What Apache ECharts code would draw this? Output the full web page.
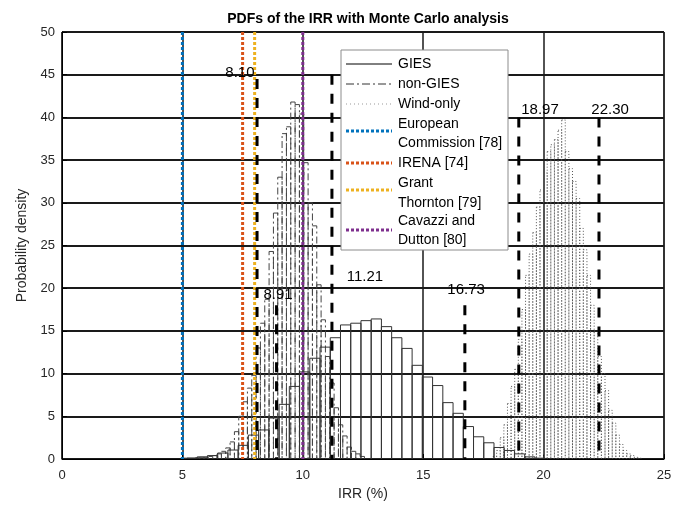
<!DOCTYPE html>
<html><head><meta charset="utf-8">
<script src="https://cdn.jsdelivr.net/npm/echarts/dist/echarts.min.js"></script>
<style>html,body{margin:0;padding:0;background:#fff}#c{width:688px;height:508px}</style>
</head><body><div id="c"></div>
<script>
const FONT = '"Liberation Sans", Arial, Helvetica, sans-serif';

// GIES histogram (bin edges: first edge + bin width), heights
const giesFirstEdge = 5.19;
const giesBinWidth = 0.425;
const giesHeights = [0.1, 0.25, 0.4, 0.7, 1.05, 1.6, 2.8, 3.4, 4.8, 6.4, 8.5, 10.2, 11.8, 13.1, 14.2,
  15.7, 15.9, 16.2, 16.4, 15.5, 14.2, 12.95, 10.97, 9.6, 8.6, 6.6, 5.35, 3.8, 2.6, 1.9, 1.35, 1.0, 0.6, 0.25, 0.1];

// non-GIES histogram
const nonGiesFirstEdge = 5.0;
const nonGiesBinWidth = 0.18;
const nonGiesHeights = [0.1, 0.1, 0.1, 0.15, 0.2, 0.2, 0.3, 0.4, 0.6, 0.9, 1.3, 2.0, 3.2, 5.0, 6.7, 8.3,
  9.8, 13, 15.9, 18.7, 24.3, 28.8, 33, 38.1, 38.9, 41.8, 41.5, 40.4, 34.7, 30, 27.3, 20.4, 16.3, 12,
  8.9, 6.0, 4.0, 2.7, 1.4, 0.9, 0.6, 0.3];

// Wind-only histogram
const windFirstEdge = 17.9;
const windBinWidth = 0.15;
const windHeights = [0.3, 1.0, 2.5, 4.0, 6.5, 8.5, 10.5, 14, 17.5, 21.5, 24, 26.5, 29.5, 31.5, 33.5, 36,
  36.8, 37.4, 38.5, 39.7, 36, 34, 32.5, 30.5, 27, 24.5, 21.5, 18, 15, 12, 10, 8, 5.7, 4.2, 2.8, 1.7,
  1.0, 0.6, 0.4, 0.2, 0.1];

// Literature reference values
const refNames = [['European', 'Commission [78]'], ['IRENA [74]'], ['Grant', 'Thornton [79]'], ['Cavazzi and', 'Dutton [80]']];
const refValues = [5, 7.5, 8, 10];
const refColors = ['#0072BD', '#D95319', '#EDB120', '#7E2F8E'];

// Percentile markers
const pctValues = [8.10, 8.91, 11.21, 16.73, 18.97, 22.30];
const pctLabels = ['8.10', '8.91', '11.21', '16.73', '18.97', '22.30'];
const pctTops = [44.5, 18, 45, 18, 40, 40];
const pctLabelX = [7.39, 8.97, 12.58, 16.78, 19.85, 22.76];
const pctLabelY = [45.2, 19.2, 21.3, 19.8, 40.9, 40.9];

function bins(first, w, heights) {
  return heights.map((h, i) => [first + i * w, first + (i + 1) * w, h]);
}
function histSeries(name, data, style, z) {
  return {
    type: 'custom', name, data, z, clip: true,
    encode: { x: [0, 1], y: 2 },
    renderItem: (params, api) => {
      const p0 = api.coord([api.value(0), api.value(2)]);
      const p1 = api.coord([api.value(1), 0]);
      return { type: 'rect', shape: { x: p0[0], y: p0[1], width: p1[0] - p0[0], height: p1[1] - p0[1] },
        style: Object.assign({ fill: 'none' }, style) };
    }
  };
}
function vlineSeries(name, data, z) {
  return {
    type: 'custom', name, data, z, clip: false,
    encode: { x: 0, y: 1 },
    renderItem: (params, api) => {
      const top = api.coord([api.value(0), api.value(1)]);
      const bot = api.coord([api.value(0), 0]);
      const d = data[params.dataIndex];
      return { type: 'line', shape: { x1: top[0], y1: top[1], x2: bot[0], y2: bot[1] },
        style: { stroke: d[2], lineWidth: 3, lineDash: d[3] } };
    }
  };
}

const refData = refValues.map((v, i) => [v, 50, refColors[i], [3, 2]]);
const pctData = pctValues.map((v, i) => [v, pctTops[i], '#000', [10, 9]]);
const pctTextData = pctLabels.map((t, i) => [pctLabelX[i], pctLabelY[i], t]);

// Legend (graphic)
const legendLeft = 341, legendTop = 50;
const legendRows = [
  { label: ['GIES'], y: 64, stroke: '#000', width: 1, dash: null },
  { label: ['non-GIES'], y: 84, stroke: '#333', width: 1, dash: [8, 3, 2, 3] },
  { label: ['Wind-only'], y: 104, stroke: '#999', width: 1, dash: [1, 3] }
];
const twoLineY = [[124, 143, 131], [163, 163, 163], [183, 203, 190], [221, 240, 230]];
refNames.forEach((n, i) => legendRows.push({ label: n, y: twoLineY[i][0], y2: twoLineY[i][1], sy: twoLineY[i][2], stroke: refColors[i], width: 3, dash: [3, 2] }));

const graphic = [{ type: 'rect', z: 100, shape: { x: legendLeft, y: legendTop, width: 167, height: 200 },
  style: { fill: '#fff', stroke: '#8c8c8c', lineWidth: 1 } }];
legendRows.forEach(r => {
  const sy = r.sy !== undefined ? r.sy : r.y;
  graphic.push({ type: 'line', z: 101, shape: { x1: 346, y1: sy, x2: 392, y2: sy },
    style: { stroke: r.stroke, lineWidth: r.width, lineDash: r.dash } });
  r.label.forEach((t, k) => {
    graphic.push({ type: 'text', z: 101, x: 398, y: k === 0 ? r.y : r.y2,
      style: { text: t, fill: '#000', font: '14px ' + FONT, verticalAlign: 'middle', align: 'left' } });
  });
});

const chart = echarts.init(document.getElementById('c'), null, { renderer: 'canvas' });
chart.setOption({
  animation: false,
  backgroundColor: '#fff',
  title: { text: 'PDFs of the IRR with Monte Carlo analysis', left: 363, top: 7, textAlign: 'center',
    textStyle: { fontFamily: FONT, fontSize: 14, fontWeight: 'bold', color: '#000' } },
  grid: { left: 62, right: 24, top: 32, bottom: 49, show: true, borderColor: '#000', borderWidth: 1 },
  xAxis: { type: 'value', min: 0, max: 25, interval: 5, name: 'IRR (%)', nameLocation: 'middle', nameGap: 27,
    nameTextStyle: { fontFamily: FONT, fontSize: 14, color: '#262626' },
    axisLine: { lineStyle: { color: '#000' } }, axisTick: { inside: true, length: 5, lineStyle: { color: '#000' } },
    axisLabel: { fontFamily: FONT, fontSize: 13, color: '#262626', margin: 10 },
    splitLine: { show: true, lineStyle: { color: '#1a1a1a', width: 1.5 } } },
  yAxis: { type: 'value', min: 0, max: 50, interval: 5, name: 'Probability density', nameLocation: 'middle', nameGap: 32,
    nameTextStyle: { fontFamily: FONT, fontSize: 14, color: '#262626' },
    axisLine: { show: true, lineStyle: { color: '#000' } }, axisTick: { show: true, inside: true, length: 5, lineStyle: { color: '#000' } },
    axisLabel: { fontFamily: FONT, fontSize: 13, color: '#262626', margin: 7 },
    splitLine: { show: true, lineStyle: { color: '#1a1a1a', width: 2 } } },
  series: [
    histSeries('Wind-only', bins(windFirstEdge, windBinWidth, windHeights), { stroke: '#555', lineWidth: 1, lineDash: [1, 2] }, 2),
    histSeries('non-GIES', bins(nonGiesFirstEdge, nonGiesBinWidth, nonGiesHeights), { stroke: '#444', lineWidth: 1, lineDash: [7, 3, 2, 3] }, 3),
    histSeries('GIES', bins(giesFirstEdge, giesBinWidth, giesHeights), { stroke: '#333', lineWidth: 1 }, 4),
    vlineSeries('refs', refData, 5),
    vlineSeries('percentiles', pctData, 6),
    { type: 'custom', name: 'pctLabels', data: pctTextData, z: 7, clip: false, encode: { x: 0, y: 1 },
      renderItem: (params, api) => {
        const p = api.coord([api.value(0), api.value(1)]);
        return { type: 'text', x: p[0], y: p[1],
          style: { text: pctTextData[params.dataIndex][2], fill: '#000', font: '15px ' + FONT, align: 'center', verticalAlign: 'middle' } };
      } }
  ],
  graphic
});
</script></body></html>
